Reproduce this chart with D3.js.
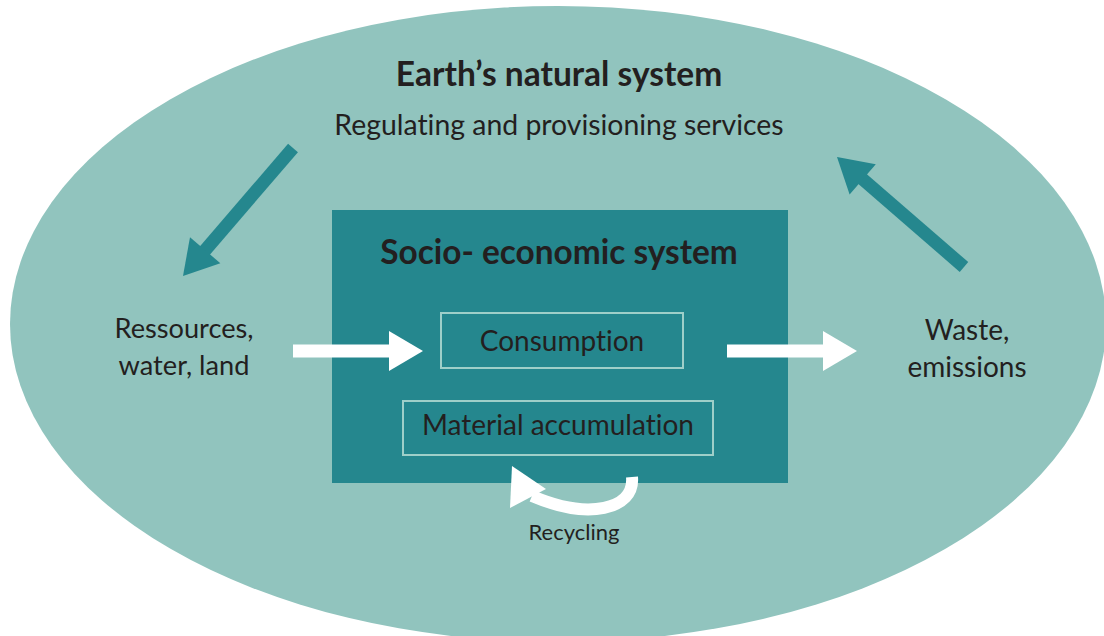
<!DOCTYPE html>
<html>
<head>
<meta charset="utf-8">
<script src="https://cdn.jsdelivr.net/npm/d3@7"></script>
<style>
  body { margin: 0; background: #fff; }
  text { font-family: "Lato", "Noto Sans", sans-serif; fill: #231f20; font-variant-ligatures: none; }
</style>
</head>
<body>
<div id="diagram"></div>
<script>
// Labels
var outerTitle = "Earth\u2019s natural system";
var outerSubtitle = "Regulating and provisioning services";
var innerTitle = "Socio- economic system";
var innerBoxes = ["Consumption", "Material accumulation"];
var leftLabel = ["Ressources,", "water, land"];
var rightLabel = ["Waste,", "emissions"];
var loopLabel = "Recycling";

// Colours
var lightTeal = "#91c4be";
var darkTeal = "#25878e";

// svg container
var svgWidth = 1104;
var svgHeight = 636;

var svg = d3.select("#diagram").append("svg")
  .attr("width", svgWidth)
  .attr("height", svgHeight);

// Outer ellipse (Earth's system)
svg.append("ellipse")
  .attr("cx", 558)
  .attr("cy", 324)
  .attr("rx", 548)
  .attr("ry", 318)
  .attr("fill", lightTeal);

// Inner rectangle (socio-economic system)
svg.append("rect")
  .attr("x", 332)
  .attr("y", 210)
  .attr("width", 456)
  .attr("height", 273)
  .attr("fill", darkTeal);

// Boxes inside
var boxes = [
  {x: 441, y: 313, w: 242, h: 55, label: innerBoxes[0], ty: 351},
  {x: 403, y: 401, w: 310, h: 54, label: innerBoxes[1], ty: 435}
];

svg.selectAll("rect.box")
  .data(boxes)
  .enter()
  .append("rect")
  .attr("class", "box")
  .attr("x", function(d) { return d.x; })
  .attr("y", function(d) { return d.y; })
  .attr("width", function(d) { return d.w; })
  .attr("height", function(d) { return d.h; })
  .attr("fill", "none")
  .attr("stroke", "#9fcfc9")
  .attr("stroke-width", 2);

svg.selectAll("text.box")
  .data(boxes)
  .enter()
  .append("text")
  .attr("class", "box")
  .attr("x", function(d) { return d.x + d.w / 2; })
  .attr("y", function(d) { return d.ty; })
  .attr("text-anchor", "middle")
  .style("font-size", "28px")
  .text(function(d) { return d.label; });

// Straight arrows: shaft + triangular head
var arrows = [
  {x1: 293, y1: 148, x2: 183, y2: 276, color: darkTeal},
  {x1: 964, y1: 267, x2: 837, y2: 157, color: darkTeal},
  {x1: 293, y1: 351, x2: 423, y2: 351, color: "#fff"},
  {x1: 727, y1: 351, x2: 857, y2: 351, color: "#fff"}
];
var shaftW = 13, headL = 34, headW = 40;

function headPoints(tx, ty, angle) {
  var c = Math.cos(angle), s = Math.sin(angle);
  var bx = tx - headL * c, by = ty - headL * s;
  return [
    [tx, ty],
    [bx - headW / 2 * s, by + headW / 2 * c],
    [bx + headW / 2 * s, by - headW / 2 * c]
  ];
}

arrows.forEach(function(a) {
  var ang = Math.atan2(a.y2 - a.y1, a.x2 - a.x1);
  var ex = a.x2 - (headL - 2) * Math.cos(ang);
  var ey = a.y2 - (headL - 2) * Math.sin(ang);
  svg.append("line")
    .attr("x1", a.x1).attr("y1", a.y1)
    .attr("x2", ex).attr("y2", ey)
    .attr("stroke", a.color)
    .attr("stroke-width", shaftW);
  svg.append("polygon")
    .attr("points", headPoints(a.x2, a.y2, ang).join(" "))
    .attr("fill", a.color);
});

// Recycling curved arrow
var loopPath = d3.path();
loopPath.moveTo(632, 477);
loopPath.bezierCurveTo(635, 510, 588, 520, 532, 496);
svg.append("path")
  .attr("d", loopPath.toString())
  .attr("fill", "none")
  .attr("stroke", "#fff")
  .attr("stroke-width", 12);
svg.append("polygon")
  .attr("points", [[512, 466], [546, 489], [510, 508]].join(" "))
  .attr("fill", "#fff");

// Titles
svg.append("text")
  .attr("x", 559)
  .attr("y", 86)
  .attr("text-anchor", "middle")
  .style("font-size", "33.5px")
  .style("font-weight", "bold")
  .text(outerTitle);

svg.append("text")
  .attr("x", 559)
  .attr("y", 135)
  .attr("text-anchor", "middle")
  .style("font-size", "28.4px")
  .text(outerSubtitle);

svg.append("text")
  .attr("x", 559)
  .attr("y", 264)
  .attr("text-anchor", "middle")
  .style("font-size", "33.4px")
  .style("font-weight", "bold")
  .text(innerTitle);

// Side labels
svg.selectAll("text.left")
  .data(leftLabel)
  .enter()
  .append("text")
  .attr("class", "left")
  .attr("x", 184)
  .attr("y", function(d, i) { return 338 + i * 37; })
  .attr("text-anchor", "middle")
  .style("font-size", "27.2px")
  .text(function(d) { return d; });

svg.selectAll("text.right")
  .data(rightLabel)
  .enter()
  .append("text")
  .attr("class", "right")
  .attr("x", 967)
  .attr("y", function(d, i) { return 340 + i * 37; })
  .attr("text-anchor", "middle")
  .style("font-size", "28px")
  .text(function(d) { return d; });

svg.append("text")
  .attr("x", 574)
  .attr("y", 540)
  .attr("text-anchor", "middle")
  .style("font-size", "22px")
  .text(loopLabel);
</script>
</body>
</html>
